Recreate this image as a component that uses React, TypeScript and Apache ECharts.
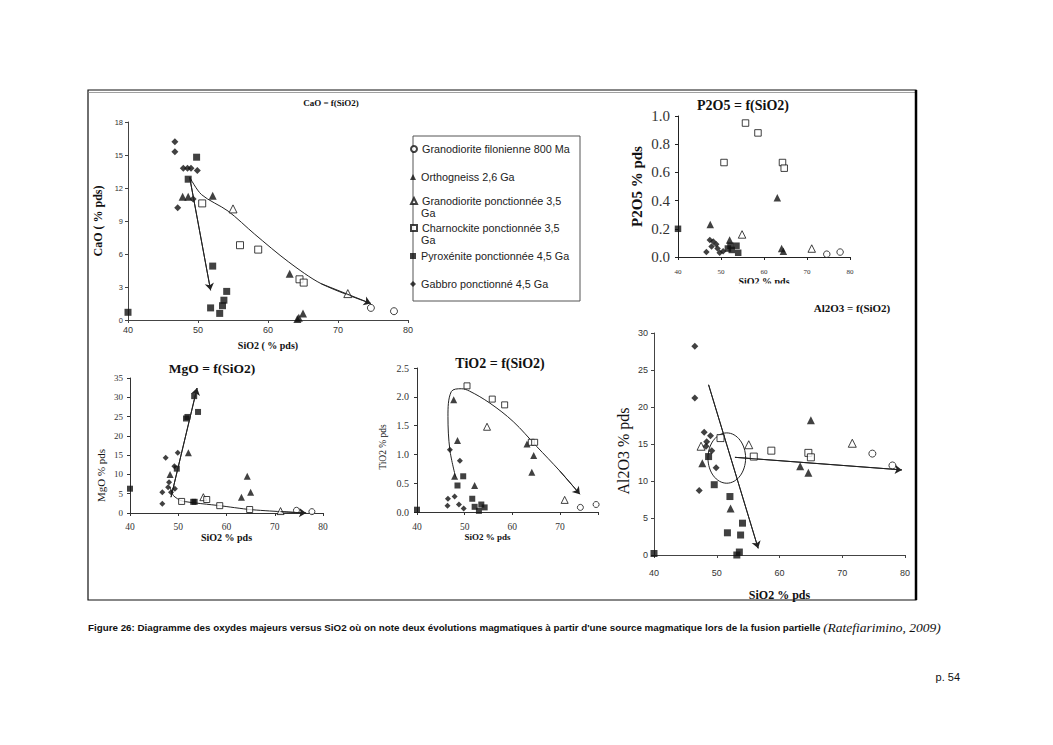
import React, { useEffect, useRef } from "react";
import * as echarts from "echarts";

const SERIF = "'Liberation Serif', 'Times New Roman', serif";
const SANS = "'Liberation Sans', Arial, sans-serif";
const INK = "#111";

// ---------- legend / groups ----------
const LEGEND_NAMES = [
  "Granodiorite filonienne 800 Ma",
  "Orthogneiss 2,6 Ga",
  "Granodiorite ponctionnée 3,5 Ga",
  "Charnockite ponctionnée 3,5 Ga",
  "Pyroxénite ponctionnée 4,5 Ga",
  "Gabbro ponctionné 4,5 Ga",
];
const LEGEND_LINE1 = [
  "Granodiorite filonienne 800 Ma",
  "Orthogneiss 2,6 Ga",
  "Granodiorite ponctionnée 3,5",
  "Charnockite ponctionnée 3,5",
  "Pyroxénite ponctionnée 4,5 Ga",
  "Gabbro ponctionné 4,5 Ga",
];
const LEGEND_LINE2 = ["", "", "Ga", "Ga", "", ""];
const MARKERS = [
  { symbol: "circle", filled: false },
  { symbol: "triangle", filled: true },
  { symbol: "triangle", filled: false },
  { symbol: "rect", filled: false },
  { symbol: "rect", filled: true },
  { symbol: "diamond", filled: true },
];

// ---------- CaO = f(SiO2) ----------
const CAO_GF = [[74.7, 1.1], [78.0, 0.8]];
const CAO_OR = [[47.8, 11.2], [48.6, 11.2], [52.1, 11.3], [63.1, 4.2], [64.2, 0.1], [64.4, 0.2], [65.0, 0.6]];
const CAO_GP = [[55.0, 10.1], [71.4, 2.4]];
const CAO_CH = [[50.6, 10.6], [56.0, 6.8], [58.6, 6.4], [64.5, 3.7], [65.1, 3.4]];
const CAO_PY = [[40, 0.7], [49.8, 14.8], [48.6, 12.8], [52.1, 4.9], [51.8, 1.1], [53.1, 0.6], [53.5, 1.3], [53.7, 1.8], [54.1, 2.6]];
const CAO_GB = [[46.7, 16.2], [46.7, 15.3], [47.9, 13.8], [48.5, 13.8], [49.0, 13.8], [49.9, 13.6], [47.1, 10.2], [49.3, 11.0]];
const CAO_CURVE = [[48.8, 13.0], [50.5, 11.4], [54.3, 9.9], [58.1, 7.8], [62.9, 5.3], [67.6, 3.3], [74.7, 1.5]];
const CAO_STEEP = [[48.8, 13.0], [51.8, 2.7]];

// ---------- P2O5 = f(SiO2) ----------
const P_GF = [[74.6, 0.02], [77.7, 0.035]];
const P_OR = [[47.5, 0.23], [52.0, 0.12], [63.1, 0.42], [64.1, 0.06], [64.5, 0.04]];
const P_GP = [[54.9, 0.16], [71.1, 0.06]];
const P_CH = [[55.7, 0.95], [58.6, 0.88], [50.7, 0.67], [64.3, 0.67], [64.7, 0.63]];
const P_PY = [[40, 0.2], [51.6, 0.06], [52.2, 0.08], [53.6, 0.08], [54.0, 0.03], [52.5, 0.05]];
const P_GB = [[47.4, 0.12], [46.6, 0.035], [48.9, 0.09], [49.7, 0.03], [50.5, 0.04], [47.8, 0.075], [48.2, 0.11], [49.2, 0.06]];

// ---------- MgO = f(SiO2) ----------
const M_GF = [[74.5, 0.7], [77.7, 0.35]];
const M_OR = [[52.1, 15.6], [48.3, 10.0], [64.3, 9.5], [65.0, 5.4], [63.1, 4.1]];
const M_GP = [[55.2, 4.1], [71.2, 0.5]];
const M_CH = [[50.7, 3.0], [55.9, 3.5], [58.6, 1.9], [64.8, 0.9]];
const M_PY = [[40, 6.3], [53.3, 30.3], [54.1, 26.2], [51.9, 24.9], [51.6, 24.5], [49.7, 11.5], [53.1, 2.9], [53.4, 2.9]];
const M_GB = [[47.4, 14.3], [49.9, 15.6], [49.2, 12.1], [46.7, 2.4], [46.7, 5.4], [49.3, 6.3], [48.1, 8.0], [48.5, 5.4], [47.9, 6.7]];
const MGO_STEEP = [[48.5, 4.1], [53.9, 32.4]];
const MGO_CURVE = [[48.3, 6.7], [49.0, 4.5], [50.8, 3.1], [58.6, 1.9], [64.8, 0.9], [71.2, 0.35], [76.5, 0]];

// ---------- TiO2 = f(SiO2) ----------
const T_GF = [[74.3, 0.08], [77.6, 0.13]];
const T_OR = [[47.7, 1.95], [48.5, 1.24], [47.9, 0.62], [52.1, 0.46], [63.1, 1.18], [64.5, 0.98], [64.1, 0.69]];
const T_GP = [[54.7, 1.48], [71.0, 0.21]];
const T_CH = [[50.5, 2.19], [55.8, 1.96], [58.4, 1.86], [64.0, 1.21], [64.7, 1.21]];
const T_PY = [[40, 0.04], [49.7, 0.62], [48.5, 0.46], [51.6, 0.23], [52.1, 0.09], [53.5, 0.13], [53.0, 0.02], [54.2, 0.08]];
const T_GB = [[46.9, 1.08], [49.0, 0.89], [47.9, 0.27], [46.5, 0.23], [46.4, 0.11], [48.8, 0.13], [49.8, 0.06]];
const TIO2_CURVE = [[48.1, 0.61], [46.9, 1.08], [46.5, 1.66], [47.2, 2.09], [49.3, 2.14], [51.0, 2.1], [55.3, 1.89], [60.2, 1.57], [65.1, 1.14], [70.0, 0.71], [74.2, 0.31]];

// ---------- Al2O3 = f(SiO2) ----------
const A_GF = [[74.8, 13.7], [78.0, 12.1]];
const A_OR = [[47.7, 12.4], [52.2, 6.3], [65.0, 18.2], [63.3, 12.0], [64.6, 11.1]];
const A_GP = [[47.5, 14.7], [55.1, 14.9], [71.6, 15.1]];
const A_CH = [[50.6, 15.8], [55.9, 13.3], [58.7, 14.1], [64.6, 13.8], [65.0, 13.2]];
const A_PY = [[40, 0.2], [48.7, 13.3], [49.6, 9.5], [52.1, 7.9], [51.7, 3.0], [53.8, 2.7], [54.1, 4.3], [53.2, 0], [53.6, 0.4]];
const A_GB = [[46.5, 28.2], [46.5, 21.2], [48.0, 16.6], [49.0, 16.1], [48.3, 14.7], [49.2, 14.1], [49.9, 11.8], [47.2, 8.7], [48.4, 15.3]];
const AL_STEEP = [[48.7, 23.0], [56.6, 0.9]];
const AL_FLAT = [[52.9, 13.2], [79.5, 11.5]];
const AL_ELLIPSE = [[51.6, 13.1, 3.0, 3.4]]; // centre x, centre y, half-width, half-height (data units)

const CAPTION = "Figure 26: Diagramme des oxydes majeurs versus SiO2 où on note deux évolutions magmatiques à partir d'une source magmatique lors de la fusion partielle ";
const CAPTION_REF = "(Ratefiarimino, 2009)";

// ---------- layout ----------
const PANELS: any[] = [
  {
    title: "CaO = f(SiO2)", tx: 331, ty: 103, tsize: 9,
    grid: { left: 128, top: 122, width: 280, height: 198 },
    xmax: 80, ymax: 18, yint: 3, ydec: 0,
    xName: "SiO2 ( % pds)", xGap: 20, xNameSize: 10, xNameBold: true, xNamePad: 0,
    yName: "CaO ( % pds)", yGap: 24, yNameSize: 12, yNameBold: true, yNamePad: 0,
    tickFont: SANS, xTick: 9, yTick: 7.5, xMargin: 5, yMargin: 5, axisColor: "#444",
    sym: 7, data: [CAO_GF, CAO_OR, CAO_GP, CAO_CH, CAO_PY, CAO_GB],
    trends: [{ pts: CAO_CURVE, smooth: 0.3 }, { pts: CAO_STEEP, smooth: false }],
  },
  {
    title: "P2O5 = f(SiO2)", tx: 743, ty: 105, tsize: 14,
    grid: { left: 678, top: 116, width: 172, height: 141 },
    xmax: 80, ymax: 1.0, yint: 0.2, ydec: 1,
    xName: "SiO2 % pds", xGap: 19, xNameSize: 10, xNameBold: true, xNamePad: 0,
    yName: "P2O5 % pds", yGap: 34, yNameSize: 15, yNameBold: true, yNamePad: 0,
    tickFont: SERIF, xTick: 7, yTick: 15, xMargin: 11, yMargin: 8, axisColor: "#222",
    sym: 6.5, data: [P_GF, P_OR, P_GP, P_CH, P_PY, P_GB],
    trends: [],
  },
  {
    title: "MgO = f(SiO2)", tx: 212, ty: 368, tsize: 13.5,
    grid: { left: 130, top: 378, width: 193, height: 135 },
    xmax: 80, ymax: 35, yint: 5, ydec: 0,
    xName: "SiO2 % pds", xGap: 15, xNameSize: 10, xNameBold: true, xNamePad: 0,
    yName: "MgO % pds", yGap: 24, yNameSize: 11, yNameBold: false, yNamePad: 60,
    tickFont: SERIF, xTick: 9.5, yTick: 9, xMargin: 9, yMargin: 7, axisColor: "#333",
    sym: 6, data: [M_GF, M_OR, M_GP, M_CH, M_PY, M_GB],
    trends: [{ pts: MGO_STEEP, smooth: false }, { pts: MGO_CURVE, smooth: 0.2 }],
  },
  {
    title: "TiO2 = f(SiO2)", tx: 500, ty: 363, tsize: 14,
    grid: { left: 417, top: 368, width: 181, height: 144 },
    xmax: 78, ymax: 2.5, yint: 0.5, ydec: 1,
    xName: "SiO2 % pds", xGap: 20, xNameSize: 9, xNameBold: true, xNamePad: 40,
    yName: "TiO2 % pds", yGap: 29, yNameSize: 9.5, yNameBold: false, yNamePad: 14,
    tickFont: SERIF, xTick: 9.5, yTick: 10, xMargin: 10, yMargin: 8, axisColor: "#333",
    sym: 6, data: [T_GF, T_OR, T_GP, T_CH, T_PY, T_GB],
    trends: [{ pts: TIO2_CURVE, smooth: 0.35 }],
  },
  {
    title: "Al2O3 = f(SiO2)", tx: 852, ty: 308, tsize: 11,
    grid: { left: 654, top: 333, width: 251, height: 222 },
    xmax: 80, ymax: 30, yint: 5, ydec: 0,
    xName: "SiO2 % pds", xGap: 34, xNameSize: 12, xNameBold: true, xNamePad: 0,
    yName: "Al2O3 % pds", yGap: 23, yNameSize: 16, yNameBold: false, yNamePad: 14,
    tickFont: SANS, xTick: 9, yTick: 9, xMargin: 13, yMargin: 6, axisColor: "#444",
    sym: 7, data: [A_GF, A_OR, A_GP, A_CH, A_PY, A_GB],
    trends: [{ pts: AL_STEEP, smooth: false }, { pts: AL_FLAT, smooth: false }],
  },
];
const LEGEND_Y = [149, 177, 201, 228, 256, 284];

function buildOption() {
  const grid = PANELS.map((p) => ({ ...p.grid, containLabel: false }));
  const xAxis = PANELS.map((p, i) => ({
    gridIndex: i, type: "value", min: 40, max: p.xmax, interval: 10,
    name: p.xName, nameLocation: "middle", nameGap: p.xGap,
    nameTextStyle: {
      fontFamily: SERIF, fontSize: p.xNameSize, fontWeight: p.xNameBold ? "bold" : "normal",
      color: INK, padding: [0, p.xNamePad, 0, 0],
    },
    axisLine: { show: true, onZero: false, lineStyle: { color: p.axisColor, width: 1 } },
    axisTick: { show: true, length: 3, lineStyle: { color: p.axisColor } },
    axisLabel: {
      fontFamily: p.tickFont, fontSize: p.xTick, color: "#333", margin: p.xMargin,
      formatter: (v: number) => (v % 10 === 0 ? String(v) : ""),
    },
    splitLine: { show: false },
  }));
  const yAxis = PANELS.map((p, i) => ({
    gridIndex: i, type: "value", min: 0, max: p.ymax, interval: p.yint,
    name: p.yName, nameLocation: "middle", nameGap: p.yGap, nameRotate: 90,
    nameTextStyle: {
      fontFamily: SERIF, fontSize: p.yNameSize, fontWeight: p.yNameBold ? "bold" : "normal", color: INK,
      padding: [0, p.yNamePad, 0, 0],
    },
    axisLine: { show: true, onZero: false, lineStyle: { color: p.axisColor, width: 1 } },
    axisTick: { show: true, length: 3, lineStyle: { color: p.axisColor } },
    axisLabel: {
      fontFamily: p.tickFont, fontSize: p.yTick, color: "#333", margin: p.yMargin,
      formatter: (v: number) => v.toFixed(p.ydec),
    },
    splitLine: { show: false },
  }));

  const series: any[] = [];
  PANELS.forEach((p, i) => {
    p.data.forEach((d: number[][], k: number) => {
      const m = MARKERS[k];
      series.push({
        type: "scatter", name: LEGEND_NAMES[k], xAxisIndex: i, yAxisIndex: i, data: d,
        symbol: m.symbol, symbolSize: m.symbol === "triangle" ? p.sym + 1 : p.sym,
        itemStyle: m.filled ? { color: INK } : { color: "#fff", borderColor: INK, borderWidth: 1 },
        z: 3, silent: true,
      });
    });
    p.trends.forEach((t: any) => {
      const n = t.pts.length;
      series.push({
        type: "line", xAxisIndex: i, yAxisIndex: i, data: t.pts, symbol: "none", showSymbol: false,
        smooth: t.smooth, lineStyle: { color: "#222", width: 1 }, z: 2, silent: true,
        markLine: {
          silent: true, symbol: ["none", "arrow"], symbolSize: 7, label: { show: false },
          lineStyle: { color: "#222", width: 1, type: "solid" },
          data: [[{ coord: t.pts[n - 2] }, { coord: t.pts[n - 1] }]],
        },
      });
    });
  });
  series.push({
    type: "custom", xAxisIndex: 4, yAxisIndex: 4, data: AL_ELLIPSE, silent: true,
    encode: { x: 0, y: 1 },
    renderItem: (_params: any, api: any) => {
      const c = api.coord([api.value(0), api.value(1)]);
      const s = api.size([api.value(2), api.value(3)]);
      return {
        type: "ellipse",
        shape: { cx: c[0], cy: c[1], rx: s[0], ry: s[1] },
        style: { fill: "none", stroke: "#222", lineWidth: 1 },
      };
    },
  });

  const legend = LEGEND_NAMES.map((name, i) => ({
    data: [name], left: 410, top: LEGEND_Y[i] - 6, orient: "vertical", padding: 0, itemGap: 0,
    itemWidth: 6, itemHeight: 6, selectedMode: false,
    formatter: () => LEGEND_LINE1[i],
    textStyle: { fontFamily: SANS, fontSize: 10.8, color: "#222", lineHeight: 12 },
  }));

  const elements: any[] = [
    { type: "rect", shape: { x: 88, y: 90, width: 828, height: 510 }, style: { fill: "none", stroke: "#111", lineWidth: 1.2 }, z: 0 },
    { type: "line", shape: { x1: 88, y1: 92.5, x2: 916, y2: 92.5 }, style: { stroke: "#888", lineWidth: 0.8 }, z: 0 },
    { type: "line", shape: { x1: 916, y1: 90, x2: 916, y2: 600 }, style: { stroke: "#000", lineWidth: 2.5 }, z: 0 },
    { type: "rect", shape: { x: 413, y: 136, width: 167, height: 165 }, style: { fill: "#fff", stroke: "#555", lineWidth: 1 }, z: 1 },
    { type: "rect", shape: { x: 700, y: 283.5, width: 140, height: 7 }, style: { fill: "#fff" }, z: 50 },
  ];
  PANELS.forEach((p) => {
    elements.push({
      type: "text", x: p.tx, y: p.ty, z: 10,
      style: { text: p.title, fill: INK, fontFamily: SERIF, fontWeight: "bold", fontSize: p.tsize, align: "center", verticalAlign: "middle" },
    });
  });
  LEGEND_LINE2.forEach((t, i) => {
    if (!t) return;
    elements.push({
      type: "text", x: 421, y: LEGEND_Y[i] + 12, z: 10,
      style: { text: t, fill: "#222", fontFamily: SANS, fontSize: 10.8, align: "left", verticalAlign: "middle" },
    });
  });
  elements.push({
    type: "text", x: 88, y: 627, z: 10,
    style: {
      text: "{a|" + CAPTION + "}{b|" + CAPTION_REF + "}",
      verticalAlign: "middle", align: "left",
      rich: {
        a: { fontFamily: SANS, fontWeight: "bold", fontSize: 9.8, fill: "#111" },
        b: { fontFamily: SERIF, fontStyle: "italic", fontSize: 13.5, fill: "#111" },
      },
    },
  });
  elements.push({
    type: "text", x: 960, y: 677, z: 10,
    style: { text: "p. 54", fill: "#111", fontFamily: SANS, fontSize: 11, align: "right", verticalAlign: "middle" },
  });

  return {
    animation: false,
    backgroundColor: "#fff",
    grid, xAxis, yAxis, series, legend,
    graphic: { elements },
  };
}

export default function App() {
  const ref = useRef<HTMLDivElement>(null);
  useEffect(() => {
    if (!ref.current) return;
    const chart = echarts.init(ref.current, undefined, { renderer: "svg" });
    chart.setOption(buildOption() as any);
    return () => chart.dispose();
  }, []);
  return (
    <div
      ref={ref}
      style={{ position: "absolute", left: 0, top: 0, width: 1053, height: 745, background: "#fff" }}
    />
  );
}
